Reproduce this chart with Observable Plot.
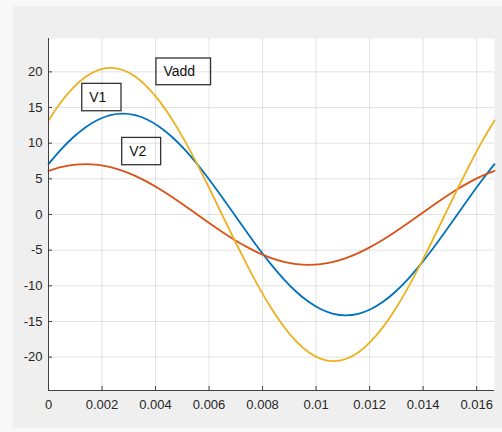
<!DOCTYPE html>
<html><head><meta charset="utf-8">
<script src="https://cdn.jsdelivr.net/npm/d3@7"></script>
<script src="https://cdn.jsdelivr.net/npm/@observablehq/plot@0.6"></script>
<style>
html,body{margin:0;padding:0;background:#f8f8f8;}
#wrap{position:relative;width:502px;height:432px;overflow:hidden;}
#panel{position:absolute;left:13px;top:6px;width:489px;height:422px;background:#efefef;}
#chart{position:absolute;left:0;top:0;}
</style></head><body>
<div id="wrap"><div id="panel"></div><div id="chart"></div></div>
<script>
const t = [0, 0.000463, 0.000926, 0.001389, 0.001852, 0.002315, 0.002778, 0.003241, 0.003704, 0.004167,
  0.004630, 0.005093, 0.005556, 0.006019, 0.006481, 0.006944, 0.007407, 0.007870, 0.008333, 0.008796,
  0.009259, 0.009722, 0.010185, 0.010648, 0.011111, 0.011574, 0.012037, 0.012500, 0.012963, 0.013426,
  0.013889, 0.014352, 0.014815, 0.015278, 0.015741, 0.016204, 0.016667];
const v1 = [7.07, 9.09, 10.83, 12.25, 13.29, 13.93, 14.14, 13.93, 13.29, 12.25,
  10.83, 9.09, 7.07, 4.84, 2.45, 0, -2.45, -4.84, -7.07, -9.09,
  -10.83, -12.25, -13.29, -13.93, -14.14, -13.93, -13.29, -12.25, -10.83, -9.09,
  -7.07, -4.84, -2.45, 0, 2.45, 4.84, 7.07];
const v2 = [6.12, 6.64, 6.96, 7.07, 6.96, 6.64, 6.12, 5.42, 4.54, 3.54,
  2.42, 1.23, 0, -1.23, -2.42, -3.54, -4.54, -5.42, -6.12, -6.64,
  -6.96, -7.07, -6.96, -6.64, -6.12, -5.42, -4.54, -3.54, -2.42, -1.23,
  0, 1.23, 2.42, 3.54, 4.54, 5.42, 6.12];
const vadd = [13.19, 15.73, 17.79, 19.32, 20.25, 20.57, 20.26, 19.35, 17.83, 15.79,
  13.25, 10.32, 7.07, 3.61, 0.03, -3.54, -6.99, -10.26, -13.19, -15.73,
  -17.79, -19.32, -20.25, -20.57, -20.26, -19.35, -17.83, -15.79, -13.25, -10.32,
  -7.07, -3.61, -0.03, 3.54, 6.99, 10.26, 13.19];

const xTicks = [0, 0.002, 0.004, 0.006, 0.008, 0.01, 0.012, 0.014, 0.016];
const yTicks = [-20, -15, -10, -5, 0, 5, 10, 15, 20];
const xDomain = [0, 0.016667];
const yDomain = [-24.68, 24.68];

const labels = ["Vadd", "V1", "V2"];
const labelX1 = [0.004034, 0.001261, 0.002754];
const labelX2 = [0.006075, 0.002728, 0.004209];
const labelY1 = [18.13, 14.48, 6.91];
const labelY2 = [21.88, 18.32, 10.74];

const series = [
  {name: "V1", values: v1, color: "#0072BD"},
  {name: "V2", values: v2, color: "#D95319"},
  {name: "Vadd", values: vadd, color: "#EDB120"}
];

const axisColor = "#404040";
const font = "'Liberation Sans', Arial, Helvetica, sans-serif";

const lineMarks = series.map(s =>
  Plot.line(t.map((x, i) => ({t: x, v: s.values[i]})), {
    x: "t", y: "v", stroke: s.color, strokeWidth: 1.8, curve: "natural"
  })
);

const chart = Plot.plot({
  width: 502,
  height: 432,
  marginLeft: 48,
  marginRight: 8,
  marginTop: 38,
  marginBottom: 42,
  style: {background: "transparent", fontFamily: font, overflow: "visible"},
  x: {domain: xDomain},
  y: {domain: yDomain},
  marks: [
    Plot.frame({fill: "white", stroke: null}),
    Plot.gridX(xTicks, {stroke: "#262626", strokeOpacity: 0.13}),
    Plot.gridY(yTicks, {stroke: "#262626", strokeOpacity: 0.13}),
    ...lineMarks,
    Plot.rect(labels, {
      x1: (d, i) => labelX1[i], x2: (d, i) => labelX2[i],
      y1: (d, i) => labelY1[i], y2: (d, i) => labelY2[i],
      fill: "none", stroke: "#333333", strokeWidth: 1.3
    }),
    Plot.text(labels, {
      x: (d, i) => labelX1[i],
      y: (d, i) => (labelY1[i] + labelY2[i]) / 2,
      text: d => d, textAnchor: "start", dx: 7, fontSize: 14, fill: "#111"
    }),
    Plot.axisX(xTicks, {tickSize: 0, tickPadding: 9, fontSize: 13, fill: "#262626",
      tickFormat: d => String(d), label: null}),
    Plot.axisX(xTicks, {tickSize: 4, dy: -4, stroke: axisColor, tickFormat: () => "", label: null}),
    Plot.axisY(yTicks, {tickSize: 0, tickPadding: 6, fontSize: 13, fill: "#262626",
      tickFormat: d => String(d), label: null}),
    Plot.axisY(yTicks, {tickSize: 4, dx: 4, stroke: axisColor, tickFormat: () => "", label: null}),
    Plot.ruleX([0], {stroke: axisColor}),
    Plot.ruleY([yDomain[0]], {stroke: axisColor})
  ]
});
document.getElementById("chart").appendChild(chart);
</script>
</body></html>
